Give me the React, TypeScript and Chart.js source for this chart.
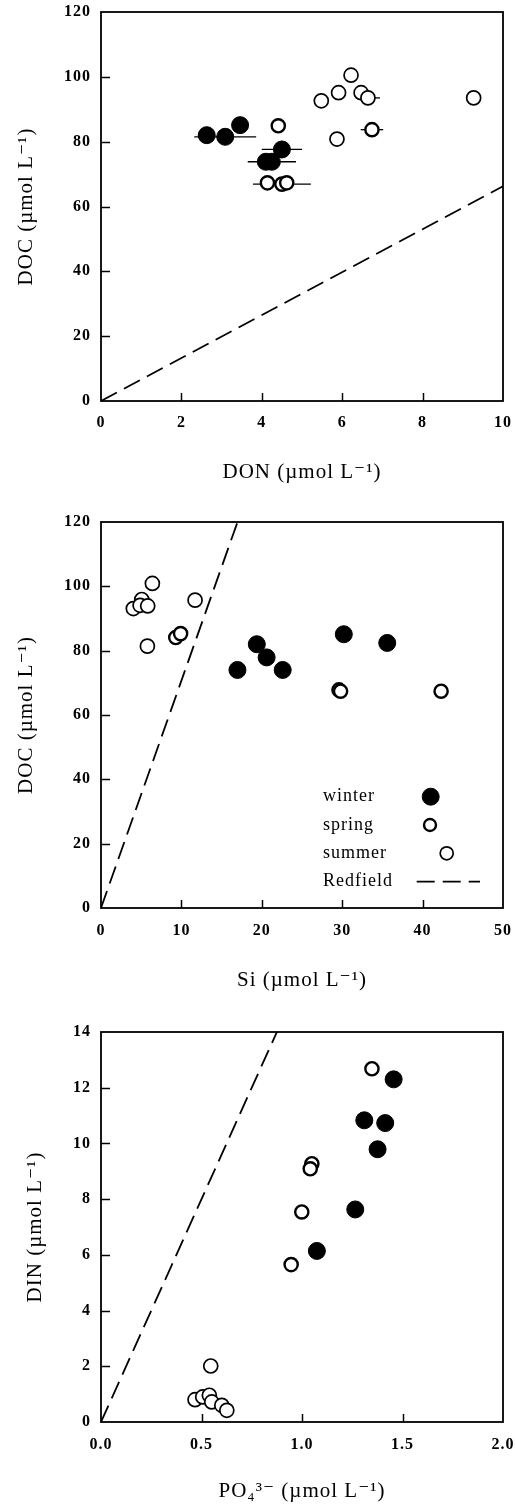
import { useEffect, useRef } from 'react';
import { Chart, registerables } from 'chart.js';

Chart.register(...registerables);

const SERIF = '"Liberation Serif", "DejaVu Serif", "Times New Roman", serif';
Chart.defaults.font.family = SERIF;
Chart.defaults.color = '#000';

// ---- DON vs DOC (µmol L-1) ----
const donWinter = [2.63, 3.09, 3.46, 4.5, 4.1, 4.25];
const docWinterA = [82.0, 81.5, 85.1, 77.6, 73.8, 73.8];
const donWinterSd = [0, 0.77, 0, 0.5, 0, 0.6];
const donSpring = [4.14, 4.5, 4.62, 4.41, 6.74];
const docSpringA = [67.3, 66.9, 67.3, 84.9, 83.7];
const donSpringSd = [0, 0.72, 0, 0, 0.28];
const donSummer = [6.22, 5.91, 5.48, 6.47, 6.64, 9.27, 5.87];
const docSummerA = [100.5, 95.1, 92.6, 95.1, 93.5, 93.5, 80.8];
const donSummerSd = [0, 0, 0, 0, 0.3, 0, 0];

// ---- Si vs DOC (µmol L-1) ----
const siWinter = [16.97, 19.38, 20.6, 22.6, 30.2, 35.6];
const docWinterB = [74.0, 82.0, 77.9, 74.0, 85.1, 82.4];
const siSpring = [29.6, 29.8, 42.3, 9.3, 9.9];
const docSpringB = [67.8, 67.4, 67.4, 84.1, 85.3];
const siSummer = [4.02, 5.07, 4.86, 5.81, 6.39, 5.77, 11.7];
const docSummerB = [93.1, 95.9, 94.1, 93.9, 100.9, 81.4, 95.7];

// ---- PO4 vs DIN (µmol L-1) ----
const po4Winter = [1.456, 1.31, 1.414, 1.376, 1.265, 1.074];
const dinWinter = [12.3, 10.83, 10.73, 9.79, 7.63, 6.14];
const po4Spring = [1.348, 1.049, 1.041, 0.999, 0.946];
const dinSpring = [12.68, 9.27, 9.09, 7.54, 5.65];
const po4Summer = [0.546, 0.468, 0.506, 0.539, 0.551, 0.601, 0.626];
const dinSummer = [2.01, 0.8, 0.9, 0.96, 0.72, 0.6, 0.42];

// Redfield ratios C:N, C:Si, N:P
const ratioCN = 106 / 16;
const ratioCSi = 106 / 15;
const ratioNP = 16;

const legendLabels = ['winter', 'spring', 'summer', 'Redfield'];

type Series = { xs: number[]; ys: number[]; errs?: number[] };

interface PanelSpec {
  winter: Series;
  spring: Series;
  summer: Series;
  ratio: number;
  xMax: number;
  xStep: number;
  yMax: number;
  yStep: number;
  xDecimals: number;
  xTitle: string;
  yTitle: string;
  top: number;
  height: number;
  padTop: number;
  xAxisH: number;
  xTickPad: number;
  xTitlePadBottom: number;
  yTitlePad: number;
  legend: boolean;
}

const PANELS: PanelSpec[] = [
  {
    winter: { xs: donWinter, ys: docWinterA, errs: donWinterSd },
    spring: { xs: donSpring, ys: docSpringA, errs: donSpringSd },
    summer: { xs: donSummer, ys: docSummerA, errs: donSummerSd },
    ratio: ratioCN,
    xMax: 10,
    xStep: 2,
    yMax: 120,
    yStep: 20,
    xDecimals: 0,
    xTitle: 'DON (µmol L⁻¹)',
    yTitle: 'DOC (µmol L⁻¹)',
    top: 0,
    height: 500,
    padTop: 12,
    xAxisH: 99,
    xTickPad: 12,
    xTitlePadBottom: 14.7,
    yTitlePad: 14,
    legend: false,
  },
  {
    winter: { xs: siWinter, ys: docWinterB },
    spring: { xs: siSpring, ys: docSpringB },
    summer: { xs: siSummer, ys: docSummerB },
    ratio: ratioCSi,
    xMax: 50,
    xStep: 10,
    yMax: 120,
    yStep: 20,
    xDecimals: 0,
    xTitle: 'Si (µmol L⁻¹)',
    yTitle: 'DOC (µmol L⁻¹)',
    top: 500,
    height: 500,
    padTop: 22,
    xAxisH: 92,
    xTickPad: 13,
    xTitlePadBottom: 7.4,
    yTitlePad: 14,
    legend: true,
  },
  {
    winter: { xs: po4Winter, ys: dinWinter },
    spring: { xs: po4Spring, ys: dinSpring },
    summer: { xs: po4Summer, ys: dinSummer },
    ratio: ratioNP,
    xMax: 2,
    xStep: 0.5,
    yMax: 14,
    yStep: 2,
    xDecimals: 1,
    xTitle: 'PO₄³⁻ (µmol L⁻¹)',
    yTitle: 'DIN (µmol L⁻¹)',
    top: 1000,
    height: 511,
    padTop: 32,
    xAxisH: 89,
    xTickPad: 13,
    xTitlePadBottom: 6.7,
    yTitlePad: 23,
    legend: false,
  },
];

const winterStyle = { radius: 8.5, fill: '#000', width: 1 };
const springStyle = { radius: 6.6, fill: '#fff', width: 2.4 };
const summerStyle = { radius: 7, fill: '#fff', width: 1.7 };
const DASH = [18, 8];

function circle(ctx: CanvasRenderingContext2D, x: number, y: number, s: { radius: number; fill: string; width: number }) {
  ctx.beginPath();
  ctx.arc(x, y, s.radius, 0, Math.PI * 2);
  ctx.fillStyle = s.fill;
  ctx.fill();
  ctx.lineWidth = s.width;
  ctx.strokeStyle = '#000';
  ctx.stroke();
}

function buildConfig(p: PanelSpec): any {
  const pts = (s: Series) => s.xs.map((x, i) => ({ x, y: s.ys[i] }));
  const tickFont = { family: SERIF, size: 16, weight: 'bold' as const };
  const titleFont = { family: SERIF, size: 21, weight: 'normal' as const };

  const decorations = {
    id: 'decorations',
    beforeDraw(chart: any) {
      chart.ctx.letterSpacing = '1px';
    },
    beforeDatasetsDraw(chart: any) {
      // horizontal error bars (± SD on the x variable)
      const { ctx, scales } = chart;
      const xs = scales.x;
      const ys = scales.y;
      ctx.save();
      ctx.strokeStyle = '#000';
      ctx.lineWidth = 1.3;
      [p.winter, p.spring, p.summer].forEach((s) => {
        if (!s.errs) return;
        s.xs.forEach((v, i) => {
          const e = s.errs![i];
          if (!e) return;
          const py = ys.getPixelForValue(s.ys[i]);
          ctx.beginPath();
          ctx.moveTo(xs.getPixelForValue(v - e), py);
          ctx.lineTo(xs.getPixelForValue(v + e), py);
          ctx.stroke();
        });
      });
      ctx.restore();
    },
    afterDraw(chart: any) {
      const { ctx, chartArea: a, scales } = chart;
      ctx.save();
      // inward tick marks
      ctx.strokeStyle = '#000';
      ctx.lineWidth = 1.5;
      scales.y.ticks.forEach((t: any) => {
        if (t.value <= 0 || t.value >= p.yMax) return;
        const py = Math.round(scales.y.getPixelForValue(t.value)) + 0.5;
        ctx.beginPath();
        ctx.moveTo(a.left, py);
        ctx.lineTo(a.left + 9, py);
        ctx.stroke();
      });
      scales.x.ticks.forEach((t: any) => {
        if (t.value <= 0 || t.value >= p.xMax) return;
        const px = Math.round(scales.x.getPixelForValue(t.value)) + 0.5;
        ctx.beginPath();
        ctx.moveTo(px, a.bottom);
        ctx.lineTo(px, a.bottom - 8);
        ctx.stroke();
      });
      // plot frame
      ctx.lineWidth = 1.8;
      ctx.strokeRect(a.left, a.top, a.right - a.left, a.bottom - a.top);

      if (p.legend) {
        ctx.font = `18px ${SERIF}`;
        ctx.fillStyle = '#000';
        ctx.textAlign = 'left';
        ctx.textBaseline = 'middle';
        const rows = [296.7, 325, 353.3, 381.7];
        legendLabels.forEach((lab, i) => ctx.fillText(lab, 323, rows[i]));
        circle(ctx, 430.7, rows[0], winterStyle);
        circle(ctx, 430, rows[1], { ...springStyle, radius: 6 });
        circle(ctx, 446.7, rows[2], { ...summerStyle, radius: 6.5 });
        ctx.setLineDash(DASH);
        ctx.lineWidth = 1.8;
        ctx.beginPath();
        ctx.moveTo(416.7, rows[3]);
        ctx.lineTo(480, rows[3]);
        ctx.stroke();
      }
      ctx.restore();
    },
  };

  const pointSet = (s: Series, st: { radius: number; fill: string; width: number }) => ({
    data: pts(s),
    pointRadius: st.radius,
    pointBackgroundColor: st.fill,
    pointBorderColor: '#000',
    pointBorderWidth: st.width,
    order: 0,
  });

  return {
    type: 'scatter',
    data: {
      datasets: [
        { label: 'winter', ...pointSet(p.winter, winterStyle) },
        { label: 'spring', ...pointSet(p.spring, springStyle) },
        { label: 'summer', ...pointSet(p.summer, summerStyle) },
        {
          label: 'Redfield',
          type: 'line',
          data: [
            { x: 0, y: 0 },
            { x: p.xMax, y: p.ratio * p.xMax },
          ],
          borderColor: '#000',
          borderWidth: 1.8,
          borderDash: DASH,
          pointRadius: 0,
          fill: false,
          order: 1,
        },
      ],
    },
    options: {
      responsive: false,
      animation: false,
      devicePixelRatio: 1,
      events: [],
      layout: { padding: { top: p.padTop, right: 12, bottom: 0, left: 0 } },
      plugins: { legend: { display: false }, tooltip: { enabled: false } },
      scales: {
        x: {
          type: 'linear',
          min: 0,
          max: p.xMax,
          ticks: {
            stepSize: p.xStep,
            padding: p.xTickPad,
            font: tickFont,
            color: '#000',
            maxRotation: 0,
            autoSkip: false,
            callback: (v: any) => Number(v).toFixed(p.xDecimals),
          },
          grid: { display: false, drawTicks: false },
          border: { display: false },
          title: {
            display: true,
            text: p.xTitle,
            font: titleFont,
            color: '#000',
            padding: { top: 0, bottom: p.xTitlePadBottom },
          },
          afterFit: (s: any) => {
            s.height = p.xAxisH;
            s.paddingLeft = 0;
            s.paddingRight = 0;
          },
        },
        y: {
          type: 'linear',
          min: 0,
          max: p.yMax,
          ticks: {
            stepSize: p.yStep,
            padding: 10,
            font: tickFont,
            color: '#000',
            autoSkip: false,
          },
          grid: { display: false, drawTicks: false },
          border: { display: false },
          title: {
            display: true,
            text: p.yTitle,
            font: titleFont,
            color: '#000',
            padding: { top: p.yTitlePad, bottom: 0 },
          },
          afterFit: (s: any) => {
            s.width = 101;
            s.paddingTop = 0;
            s.paddingBottom = 0;
          },
        },
      },
    },
    plugins: [decorations],
  };
}

function Panel({ spec }: { spec: PanelSpec }) {
  const ref = useRef<HTMLCanvasElement>(null);
  useEffect(() => {
    const chart = new Chart(ref.current as HTMLCanvasElement, buildConfig(spec));
    return () => chart.destroy();
  }, [spec]);
  return (
    <canvas
      ref={ref}
      width={515}
      height={spec.height}
      style={{ position: 'absolute', left: 0, top: spec.top, width: 515, height: spec.height, display: 'block' }}
    />
  );
}

export default function App() {
  return (
    <div style={{ position: 'absolute', left: 0, top: 0, width: 515, height: 1511, background: '#fff' }}>
      {PANELS.map((p, i) => (
        <Panel key={i} spec={p} />
      ))}
    </div>
  );
}
